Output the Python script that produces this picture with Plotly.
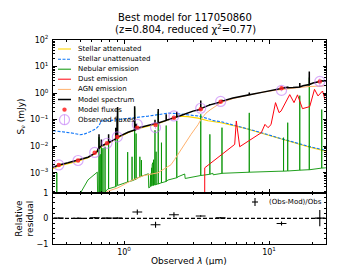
import plotly.graph_objects as go

FONT = "DejaVu Sans"

# ---------------- data (observed frame, micron / mJy) ----------------
band_wl = [0.355, 0.482, 0.628, 0.763, 0.899, 1.235, 1.65, 2.21, 3.38, 4.64, 12.2, 22.4]
mod_flux = [1.95e-3, 2.9e-3, 5.7e-3, 0.0128, 0.0222, 0.050, 0.063, 0.119, 0.245, 0.477, 1.52, 2.72]
obs_flux = [1.97e-3, 2.9e-3, 5.82e-3, 0.01293, 0.02242, 0.0662, 0.0504, 0.1384, 0.2692, 0.4867, 1.267, 2.747]
obs_relerr = [0.03, 0.03, 0.03, 0.03, 0.03, 0.10, 0.12, 0.10, 0.03, 0.03, 0.08, 0.32]

# stellar attenuated
att_wl = [0.324, 0.351, 0.411, 0.482, 0.5646, 0.628, 0.662, 0.7164, 0.7755, 0.895, 1.0656, 1.249,
          1.464, 1.716, 2.012, 2.358, 2.763, 3.239, 3.796, 4.667, 6.792, 11.54, 18.58, 24.7]
att_fl = [1.42e-3, 1.76e-3, 2.19e-3, 2.72e-3, 3.68e-3, 5.2e-3, 7.7e-3, 0.01045, 0.0124, 0.02, 0.0323, 0.0457,
          0.0569, 0.0706, 0.1, 0.1355, 0.13, 0.114, 0.0916, 0.0771, 0.0478, 0.02, 0.00957, 0.00647]

# stellar unattenuated
una_wl = [0.324, 0.3796, 0.4446, 0.4972, 0.53, 0.583, 0.641, 0.672, 0.697, 0.776, 0.867, 0.984, 1.191,
          1.464, 1.716, 2.012, 2.358, 2.763, 3.239, 3.796, 4.17, 4.667, 5.645, 6.792, 8.40, 11.54, 14.64,
          18.58, 23.58, 24.7]
una_fl = [0.0385, 0.0353, 0.031, 0.0272, 0.0284, 0.0353, 0.0457, 0.0594, 0.0893, 0.0916, 0.0975, 0.109, 0.119,
          0.1355, 0.1545, 0.176, 0.168, 0.1545, 0.138, 0.109, 0.0916, 0.084, 0.0647, 0.0499, 0.0353, 0.0209, 0.0142,
          0.01, 0.00738, 0.00676]

# nebular continuum
neb_wl = [0.497, 0.5646, 0.6545, 0.658, 0.7755, 0.909, 1.0656, 1.249, 1.473, 1.48, 1.716, 2.012, 2.358,
          2.621, 2.642, 2.992, 3.604, 4.10, 4.12, 4.817, 6.792, 11.54, 18.58, 24.7]
neb_fl = [1.6e-4, 5.4e-4, 1.06e-3, 1.0e-4, 2.49e-4, 3.37e-4, 4.57e-4, 6.48e-4, 9.2e-4, 2.72e-4, 3.85e-4, 5.35e-4, 7.06e-4,
          9.0e-4, 6.1e-4, 7.06e-4, 8.26e-4, 9.58e-4, 8.4e-4, 9.58e-4, 1.044e-3, 1.14e-3, 1.3e-3, 1.54e-3]
# nebular lines: wavelength, base, peak
neb_line_wl = [0.344, 0.6696, 0.6713, 0.6724, 0.6736, 0.6765, 0.6803, 0.6852, 0.6918, 0.698, 0.7016, 0.7162,
               0.740, 0.783, 0.877, 0.895, 0.9033, 1.060, 1.1365, 1.181, 1.184, 1.188, 1.212, 1.287, 1.320,
               1.5139, 1.5177, 1.5222, 1.5274, 1.5338, 1.5415, 1.5511, 1.5632, 1.5785, 1.5989, 1.6263, 1.636,
               1.6649, 1.7221, 1.8128, 1.954, 2.312, 3.383, 3.91, 4.74, 7.31, 12.6, 13.46, 16.3, 18.96, 23.1]
neb_line_base = [1e-4, 1.2e-4, 1.2e-4, 1.2e-4, 1.3e-4, 1.3e-4, 1.3e-4, 1.4e-4, 1.4e-4, 1.5e-4, 1.5e-4, 1.6e-4,
                 1.9e-4, 2.5e-4, 3.0e-4, 3.3e-4, 3.3e-4, 4.5e-4, 5.0e-4, 5.4e-4, 5.4e-4, 5.4e-4, 5.8e-4, 7.0e-4, 7.4e-4,
                 2.9e-4, 3.0e-4, 3.0e-4, 3.1e-4, 3.1e-4, 3.2e-4, 3.2e-4, 3.3e-4, 3.3e-4, 3.4e-4, 3.5e-4, 3.5e-4,
                 3.6e-4, 3.8e-4, 4.2e-4, 4.7e-4, 6.5e-4, 7.9e-4, 8.8e-4, 9.5e-4, 1.05e-3, 1.15e-3, 1.17e-3, 1.25e-3,
                 1.3e-3, 1.5e-3]
neb_line_peak = [1.0e-3, 1.5e-3, 2.0e-3, 0.022, 2.8e-3, 3.5e-3, 4.2e-3, 5.0e-3, 6.0e-3, 9.0e-3, 7.5e-3, 8.5e-3,
                 9.5e-3, 0.013, 0.03, 0.09, 0.26, 6e-3, 4e-3, 0.05, 0.28, 0.08, 0.03, 4e-3, 3e-3,
                 5.4e-4, 6.5e-4, 7.7e-4, 9.2e-4, 1.09e-3, 1.3e-3, 1.54e-3, 2.0e-3, 2.4e-3, 3.1e-3, 4.4e-3, 0.04,
                 6.2e-3, 0.2, 0.0136, 0.06, 0.09, 0.16, 0.028, 0.05, 0.18, 0.021, 0.077, 0.8, 3.85, 0.24]

# dust emission
dust_wl = [3.600, 3.604, 5.80, 5.95, 6.28, 8.40, 8.85, 9.38, 9.84, 10.32, 11.09, 11.73, 12.1, 13.9, 14.88,
           15.73, 17.02, 19.09, 20.6, 21.78, 23.4, 24.3]
dust_fl = [1e-6, 1.54e-3, 0.0117, 0.0893, 0.00957, 0.0279, 0.0323, 0.0665, 0.0499, 0.0647, 0.438, 0.184, 0.21,
           0.877, 0.438, 0.86, 0.26, 0.31, 1.39, 0.783, 1.2, 0.58]

# AGN emission
agn_wl = [0.70, 0.736, 0.776, 0.909, 1.117, 1.352, 1.716, 1.948, 2.107, 2.236, 2.358, 2.473, 2.621, 2.763,
          2.899, 3.239, 3.398, 3.676, 3.976, 4.667, 5.645, 6.792, 9.09, 11.54, 14.97, 18.58, 24.1]
agn_fl = [1.5e-4, 1.8e-4, 2.04e-4, 2.72e-4, 4.99e-4, 7.7e-4, 1.0e-3, 1.54e-3, 2.0e-3, 3.18e-3, 4.9e-3, 8.05e-3,
          0.0117, 0.0181, 0.0279, 0.0647, 0.1026, 0.176, 0.245, 0.438, 0.62, 0.783, 1.09, 1.32, 1.52, 1.76, 1.87]

# model spectrum continuum + lines
mod_wl = [0.324, 0.351, 0.411, 0.482, 0.5646, 0.628, 0.6545, 0.662, 0.7164, 0.7755, 0.895, 1.0656, 1.249,
          1.464, 1.716, 2.012, 2.21, 2.553, 2.992, 3.38, 3.796, 4.64, 5.645, 7.163, 9.09, 12.2, 14.64, 17.16,
          20.12, 22.4, 24.7]
mod_fl = [1.61e-3, 1.92e-3, 2.38e-3, 2.96e-3, 3.84e-3, 5.4e-3, 6.3e-3, 8.1e-3, 0.0109, 0.0133, 0.0219, 0.0336,
          0.0488, 0.0593, 0.0737, 0.1, 0.119, 0.154, 0.21, 0.245, 0.338, 0.465, 0.65, 0.877, 1.09, 1.45, 1.61,
          1.9, 2.4, 2.72, 2.85]
mod_line_wl = [0.6724, 0.698, 0.783, 0.877, 0.895, 0.9033, 1.184, 1.188, 1.212, 1.636, 1.7221, 1.954, 2.312,
               3.383, 3.91, 4.74, 7.31, 13.46, 16.3, 18.96, 23.1]
mod_line_base = [8.3e-3, 0.0105, 0.0135, 0.019, 0.021, 0.022, 0.041, 0.041, 0.043, 0.07, 0.075, 0.094, 0.127,
                 0.26, 0.36, 0.5, 0.86, 1.6, 1.7, 2.1, 2.85]
mod_line_peak = [0.028, 0.018, 0.028, 0.05, 0.11, 0.3, 0.32, 0.11, 0.07, 0.1, 0.25, 0.16, 0.2,
                 0.53, 0.39, 0.56, 1.05, 1.67, 2.4, 6.5, 3.1]

legend_labels = ["Stellar attenuated", "Stellar unattenuated", "Nebular emission", "Dust emission",
                 "AGN emission", "Model spectrum", "Model fluxes", "Observed fluxes"]

# ---------------- helpers ----------------
def add_lines(wl, fl, lwl, lbase, lpeak):
    pts = list(zip(wl, fl))
    for lam, b, p in zip(lwl, lbase, lpeak):
        pts += [(lam * 0.9993, b), (lam, p), (lam * 1.0007, b)]
    pts.sort()
    return [q[0] for q in pts], [q[1] for q in pts]

neb_x, neb_y = add_lines(neb_wl, neb_fl, neb_line_wl, neb_line_base, neb_line_peak)
spec_x, spec_y = add_lines(mod_wl, mod_fl, mod_line_wl, mod_line_base, mod_line_peak)

residual = [(o - m) / o for o, m in zip(obs_flux, mod_flux)]
obs_err = [e * o for e, o in zip(obs_relerr, obs_flux)]

C_ATT = "#FFD700"
C_UNA = "#0d75f8"
C_NEB = "#089404"
C_DUST = "#ff000d"
C_AGN = "#ffb16d"
C_OBS = "rgba(191,119,246,0.6)"
C_MODPT = "rgba(255,30,30,0.85)"

fig = go.Figure()
fig.add_trace(go.Scatter(x=att_wl, y=att_fl, mode="lines", line=dict(color=C_ATT, width=1.1),
                         xaxis="x", yaxis="y", showlegend=False))
fig.add_trace(go.Scatter(x=una_wl, y=una_fl, mode="lines", line=dict(color=C_UNA, width=1.1, dash="3px,1.5px"),
                         xaxis="x", yaxis="y", showlegend=False))
fig.add_trace(go.Scatter(x=neb_x, y=neb_y, mode="lines", line=dict(color=C_NEB, width=0.9),
                         xaxis="x", yaxis="y", showlegend=False))
fig.add_trace(go.Scatter(x=dust_wl, y=dust_fl, mode="lines", line=dict(color=C_DUST, width=1),
                         xaxis="x", yaxis="y", showlegend=False))
fig.add_trace(go.Scatter(x=agn_wl, y=agn_fl, mode="lines", line=dict(color=C_AGN, width=1),
                         xaxis="x", yaxis="y", showlegend=False))
fig.add_trace(go.Scatter(x=spec_x, y=spec_y, mode="lines", line=dict(color="black", width=1.5),
                         xaxis="x", yaxis="y", showlegend=False))
fig.add_trace(go.Scatter(x=band_wl, y=mod_flux, mode="markers",
                         marker=dict(color=C_MODPT, size=4.5, line=dict(width=0)),
                         xaxis="x", yaxis="y", showlegend=False))
fig.add_trace(go.Scatter(x=band_wl, y=obs_flux, mode="markers",
                         marker=dict(symbol="circle-open", color=C_OBS, size=10, line=dict(width=1.2, color=C_OBS)),
                         error_y=dict(type="data", array=obs_err, color=C_OBS, thickness=1, width=0),
                         xaxis="x", yaxis="y", showlegend=False))
# residuals
fig.add_trace(go.Scatter(x=band_wl, y=residual, mode="markers",
                         marker=dict(symbol="line-ew", size=7, color="black", line=dict(width=1.1, color="black")),
                         error_y=dict(type="data", array=obs_relerr, color="black", thickness=1.1, width=0),
                         xaxis="x2", yaxis="y2", showlegend=False))

# ---------------- axes ----------------
xr = [-0.4897, 1.3931]
x_minor = [0.4, 0.5, 0.6, 0.7, 0.8, 0.9, 2, 3, 4, 5, 6, 7, 8, 9, 20]
y_major = [1e-3, 1e-2, 1e-1, 1, 10, 100]
y_text = ["10<sup>−3</sup>", "10<sup>−2</sup>", "10<sup>−1</sup>", "10<sup>0</sup>", "10<sup>1</sup>", "10<sup>2</sup>"]
y_minor = [m * 10.0 ** e for e in range(-4, 2) for m in range(2, 10)]
tickfont = dict(family=FONT, size=8, color="black")
common = dict(showline=True, linecolor="black", linewidth=1, mirror="allticks", ticks="inside",
              ticklen=3.5, tickcolor="black", tickwidth=0.8, showgrid=False, zeroline=False, tickfont=tickfont)

fig.update_layout(
    width=353, height=265, autosize=False,
    margin=dict(l=45, r=35, t=32, b=29),
    paper_bgcolor="white", plot_bgcolor="white",
    font=dict(family=FONT, color="black", size=8),
    showlegend=False,
    xaxis=dict(type="log", range=xr, domain=[0, 1], anchor="y", tickmode="array", tickvals=[1, 10],
               showticklabels=False,
               minor=dict(tickmode="array", tickvals=x_minor, ticks="inside", ticklen=2, tickcolor="black"),
               **common),
    yaxis=dict(type="log", range=[-3.75, 2], domain=[0.2515, 1], anchor="x", tickmode="array",
               tickvals=y_major, ticktext=y_text, ticklabelstandoff=2,
               minor=dict(tickmode="array", tickvals=y_minor, ticks="inside", ticklen=2, tickcolor="black"),
               **common),
    xaxis2=dict(type="log", range=xr, domain=[0, 1], anchor="y2", tickmode="array", tickvals=[1, 10],
                ticktext=["10<sup>0</sup>", "10<sup>1</sup>"],
                minor=dict(tickmode="array", tickvals=x_minor, ticks="inside", ticklen=2, tickcolor="black"),
                **common),
    yaxis2=dict(range=[-1, 1], domain=[0, 0.2515], anchor="x2", tickmode="array", tickvals=[-1, 0, 1],
                ticktext=["−1", "0", "1"], ticklabelstandoff=2,
                minor=dict(tickmode="array", tickvals=[-0.8, -0.6, -0.4, -0.2, 0.2, 0.4, 0.6, 0.8],
                           ticks="inside", ticklen=2, tickcolor="black"),
                **common),
)

shapes = [dict(type="line", xref="x2 domain", yref="y2", x0=0, x1=1, y0=0, y1=0,
               line=dict(color="black", width=1.3, dash="4px,2px"))]
annotations = []

# ---------------- manual legend (top panel) ----------------
W, H = 273.0, 204.0
def px(x):
    return (x - 45) / W
def py(y):
    return (236 - y) / H

rows = [41, 51.2, 61.2, 71.2, 81.4, 91.5, 101.6, 111.7]
styles = [dict(color=C_ATT, width=1.1), dict(color=C_UNA, width=1.1, dash="3px,1.5px"),
          dict(color=C_NEB, width=1), dict(color=C_DUST, width=1), dict(color=C_AGN, width=1),
          dict(color="black", width=1.5)]
for i, lab in enumerate(legend_labels):
    yy = py(rows[i])
    if i < 6:
        shapes.append(dict(type="line", xref="paper", yref="paper", x0=px(50), x1=px(63), y0=yy, y1=yy,
                           line=styles[i]))
    elif i == 6:
        shapes.append(dict(type="circle", xref="paper", yref="paper", xsizemode="pixel", ysizemode="pixel",
                           xanchor=px(56.5), yanchor=yy, x0=-2.2, x1=2.2, y0=-2.2, y1=2.2,
                           fillcolor=C_MODPT, line=dict(width=0)))
    else:
        shapes.append(dict(type="circle", xref="paper", yref="paper", xsizemode="pixel", ysizemode="pixel",
                           xanchor=px(56.5), yanchor=yy, x0=-5, x1=5, y0=-5, y1=5,
                           line=dict(color=C_OBS, width=1.2)))
        shapes.append(dict(type="line", xref="paper", yref="paper", xsizemode="pixel", ysizemode="pixel",
                           xanchor=px(56.5), yanchor=yy, x0=0, x1=0, y0=-5, y1=5,
                           line=dict(color=C_OBS, width=1)))
    annotations.append(dict(text=lab, xref="paper", yref="paper", x=px(68), y=yy, xanchor="left",
                            yanchor="middle", showarrow=False, font=dict(family=FONT, size=7, color="black")))

# residual legend
shapes.append(dict(type="line", xref="paper", yref="paper", xsizemode="pixel", ysizemode="pixel",
                   xanchor=px(247), yanchor=py(194), x0=-3, x1=3, y0=0, y1=0, line=dict(color="black", width=1.1)))
shapes.append(dict(type="line", xref="paper", yref="paper", xsizemode="pixel", ysizemode="pixel",
                   xanchor=px(247), yanchor=py(194), x0=0, x1=0, y0=-4, y1=4, line=dict(color="black", width=1.1)))
annotations.append(dict(text="(Obs-Mod)/Obs", xref="paper", yref="paper", x=px(259), y=py(194), xanchor="left",
                        yanchor="middle", showarrow=False, font=dict(family=FONT, size=7, color="black")))

# titles and axis labels
annotations += [
    dict(text="Best model for 117050860", xref="paper", yref="paper", x=px(177), y=py(10),
         xanchor="center", yanchor="middle", showarrow=False, font=dict(family=FONT, size=10)),
    dict(text="(z=0.804, reduced χ<sup>2</sup>=0.77)", xref="paper", yref="paper", x=px(177), y=py(21.5),
         xanchor="center", yanchor="middle", showarrow=False, font=dict(family=FONT, size=10)),
    dict(text="S<sub>ν</sub> (mJy)", xref="paper", yref="paper", x=px(13), y=py(108.4), textangle=-90,
         xanchor="center", yanchor="middle", showarrow=False, font=dict(family=FONT, size=9)),
    dict(text="Relative<br>residual", xref="paper", yref="paper", x=px(16.7), y=py(210), textangle=-90,
         xanchor="center", yanchor="middle", showarrow=False, font=dict(family=FONT, size=9)),
    dict(text="Observed <i>λ</i> (μm)", xref="paper", yref="paper", x=px(181), y=py(252.7),
         xanchor="center", yanchor="middle", showarrow=False, font=dict(family=FONT, size=9)),
]

fig.update_layout(shapes=shapes, annotations=annotations)
fig.write_html("out.html")
